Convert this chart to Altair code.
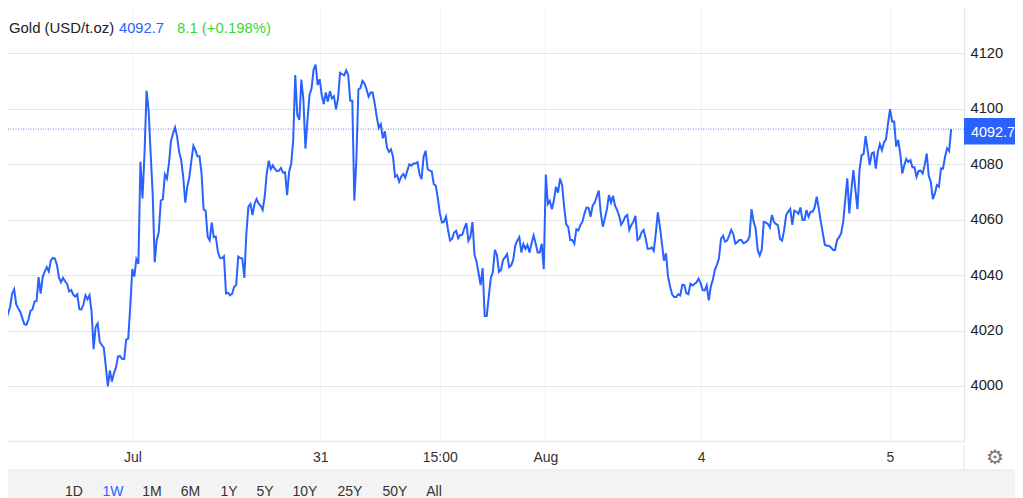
import json
import altair as alt
import pandas as pd

FONT = "Liberation Sans"
BLUE = "#2962ff"

prices = [
4028.1,4026.1,4028.5,4033.3,4034.9,4029.5,4028.0,4026.8,4024.5,4022.3,4022.1,4023.9,4027.1,4027.6,4030.5,4030.7,4039.3,4033.3,4039.3,
4041.3,4042.9,4041.3,4045.3,4046.2,4046.0,4043.7,4039.2,4037.4,4039.0,4037.8,4036.8,4034.1,4034.6,4033.0,4032.3,4033.1,4027.7,4027.6,4029.3,
4032.7,4031.3,4032.8,4026.9,4013.3,4021.3,4022.6,4016.0,4014.8,4013.8,4007.1,3999.9,4005.6,4001.6,4004.7,4006.7,4010.7,4010.8,4009.8,4009.7,
4016.7,4017.1,4028.7,4042.2,4039.5,4045.8,4044.1,4080.9,4067.7,4083.9,4106.5,4099.6,4083.9,4069.5,4044.7,4052.7,4055.5,4066.9,4067.4,4076.3,
4074.8,4080.3,4088.4,4091.2,4093.3,4090.0,4084.5,4081.5,4075.5,4066.2,4071.9,4075.3,4081.3,4086.7,4085.1,4082.9,4082.9,4076.7,4063.8,4063.2,
4053.9,4052.6,4059.0,4053.7,4053.9,4048.5,4046.2,4046.1,4046.8,4033.4,4033.7,4032.7,4033.3,4035.7,4036.5,4046.7,4046.2,4046.0,4039.0,4055.1,
4064.7,4065.7,4061.7,4065.7,4067.5,4065.9,4065.0,4063.5,4068.3,4076.7,4081.3,4078.3,4079.6,4078.3,4077.5,4077.7,4078.7,4077.0,4077.1,4068.9,4077.3,
4080.1,4088.8,4112.2,4097.8,4096.0,4110.6,4103.2,4085.6,4096.0,4105.0,4107.4,4114.2,4116.0,4108.6,4110.7,4105.0,4101.7,4105.9,4102.6,4106.4,
4103.8,4104.6,4099.8,4103.8,4113.0,
4112.5,4112.1,4113.9,4112.2,4102.9,4102.9,4066.9,4081.5,4107.0,4107.5,4110.1,4109.2,4107.1,4104.4,4105.9,4105.9,4102.0,4097.2,4093.1,4094.5,
4089.4,4091.9,4086.1,4084.5,4085.4,4082.7,4075.5,4076.1,4073.7,4075.5,4076.5,4075.2,4077.7,4080.0,4079.5,4080.3,4080.3,4080.8,4076.5,4074.6,
4082.7,4084.9,4078.2,4077.7,4077.5,4072.8,4072.3,4067.7,4062.3,4059.0,4059.2,4061.1,4056.3,4052.5,4053.1,4055.4,4056.0,4053.3,4054.5,4054.6,
4056.9,4058.8,4052.4,4053.9,4059.2,4047.3,4044.9,4040.7,4036.4,4042.5,4025.3,4025.3,4032.3,4038.9,4041.1,4049.1,4047.3,4041.2,4041.9,4045.5,
4046.5,4047.6,4042.9,4043.5,4045.5,4050.7,4052.4,4053.7,4048.2,4051.2,4049.5,4050.9,4048.2,4051.5,4054.3,4051.5,4048.2,4048.2,4051.3,4042.2,
4076.3,4065.7,4066.8,4063.8,4067.1,4071.9,4069.8,4074.9,4072.5,4064.7,4058.4,4057.3,4052.7,4052.7,4051.3,4056.6,4056.1,4058.1,4059.3,4062.3,
4064.4,4064.3,4061.1,4065.1,4066.2,4068.3,4070.5,4062.3,4057.5,4060.5,4063.8,4068.9,4066.2,4068.6,4065.1,4063.5,4061.4,4058.2,4059.4,4061.1,
4061.7,4056.3,4058.1,4059.3,4061.4,4052.7,4053.3,4055.4,4056.3,4053.3,4049.5,4049.5,4050.0,4048.8,4055.1,4062.7,4057.5,4051.5,4045.2,4047.9,
4039.5,4035.9,
4033.1,4032.1,4032.1,4033.1,4032.7,4036.5,4036.4,4033.5,4033.1,4036.9,4036.3,4036.8,4037.4,4038.7,4037.1,4034.6,4034.5,4036.3,4030.9,4035.9,
4038.3,4041.9,4043.7,4046.1,4053.1,4054.2,4052.1,4052.5,4054.3,4056.3,4054.9,4051.4,4051.9,4052.7,4052.7,4051.5,4051.8,4052.4,4053.9,4063.8,
4059.3,4056.9,4049.1,4047.1,4049.1,4059.2,4059.0,4058.5,4057.2,4061.7,4059.2,4058.5,4057.9,4053.0,4052.5,4056.3,4061.7,4062.9,4063.9,4058.1,
4063.3,4062.9,4062.1,4064.4,4059.9,4059.9,4063.5,4061.1,4062.9,4062.9,4064.5,4068.3,4064.1,4059.3,4055.1,4050.9,4050.6,4050.6,4050.0,4049.1,
4049.1,4052.7,4053.7,4055.1,4059.3,4067.1,4074.9,4062.3,4070.7,4077.9,4070.7,4063.8,4077.9,4083.3,4083.7,4090.2,4085.1,4079.7,4083.9,4084.3,
4078.4,4084.5,4087.3,4085.1,4087.9,4089.0,4094.8,4099.9,4095.4,4095.4,4086.4,4088.8,4083.9,4076.7,4079.7,4081.9,4080.8,4081.5,4078.9,4078.9,
4075.5,4077.6,4077.7,4076.7,4079.7,4083.9,4075.8,4073.7,4067.4,4069.5,4072.5,4071.9,4078.5,4078.4,4082.7,4085.8,4084.8,4092.7,
]

tick_steps = [62.05, 154.3, 212.9, 264.8, 341.3, 433.9]
tick_labels = ["Jul", "31", "15:00", "Aug", "4", "5"]
y_ticks = [4000, 4020, 4040, 4060, 4080, 4100, 4120]
last_price = 4092.7
ranges = ["1D", "1W", "1M", "6M", "1Y", "5Y", "10Y", "25Y", "50Y", "All"]
range_x = [66, 105, 144, 182.5, 221, 257, 297, 342, 387, 426]

df = pd.DataFrame({"step": list(range(len(prices))), "price": prices})
x_scale = alt.Scale(domain=[0.98, 470.3], nice=False, zero=False)
y_scale = alt.Scale(domain=[3980.15, 4136.4], nice=False, zero=False)

label_expr = "{}[indexof({}, datum.value)]".format(json.dumps(tick_labels), json.dumps(tick_steps))

y_axis = alt.Axis(
    values=y_ticks, orient="right", grid=True, gridColor="#e6e6e6", gridWidth=1.2,
    domainColor="#e6e6e6", domainWidth=1.2, ticks=False, labelFont=FONT, labelFontSize=14.7,
    labelColor="#222222", labelPadding=6, format="d")

line = alt.Chart(df).mark_line(color=BLUE, strokeWidth=2, clip=False).encode(
    x=alt.X("step:Q", scale=x_scale, title=None, axis=alt.Axis(
        values=tick_steps, labelExpr=label_expr, grid=True, gridColor="#eff3f7", gridWidth=1,
        domainColor="#e6e6e6", domainWidth=1.5, ticks=False, labelFont=FONT, labelFontSize=14,
        labelColor="#333333", labelPadding=9, labelAngle=0, labelOverlap=False, labelFlush=False)),
    y=alt.Y("price:Q", scale=y_scale, title=None, axis=y_axis),
)

last_rule = alt.Chart(alt.Data(values=[{"p": last_price}])).mark_rule(
    color=BLUE, strokeWidth=1, strokeDash=[1, 1.5], opacity=0.75
).encode(y=alt.Y("p:Q", scale=y_scale, title=None, axis=y_axis))


def label(text, x, y, color="#333333", size=14.5, align="left"):
    return alt.Chart(alt.Data(values=[{"t": text}])).mark_text(
        x=x, y=y, color=color, fontSize=size, font=FONT, align=align, baseline="middle"
    ).encode(text="t:N")


strip = alt.Chart(alt.Data(values=[{"a": 1}])).mark_rect(color="#f3f3f3").encode(
    x=alt.value(-8), x2=alt.value(1007), y=alt.value(462), y2=alt.value(490))
strip_top = alt.Chart(alt.Data(values=[{"a": 1}])).mark_rule(color="#e6e6e6", strokeWidth=1).encode(
    x=alt.value(-8), x2=alt.value(1007), y=alt.value(462))
axis_tail = alt.Chart(alt.Data(values=[{"a": 1}])).mark_rule(color="#e6e6e6", strokeWidth=1).encode(
    x=alt.value(956), y=alt.value(437), y2=alt.value(462))
price_box = alt.Chart(alt.Data(values=[{"a": 1}])).mark_rect(color=BLUE).encode(
    x=alt.value(956), x2=alt.value(1007), y=alt.value(110), y2=alt.value(136.5))

layers = [strip, strip_top, axis_tail, line, last_rule, price_box,
          label("4092.7", 963, 125, "#ffffff", 14.4),
          label("Gold (USD/t.oz)", 1, 21, "#222222", 14.9),
          label("4092.7", 111, 21, BLUE, 14.7),
          label("8.1 (+0.198%)", 169, 21, "#3bd63b", 14.9),
          label("\u2699", 987, 450, "#777777", 20, "center")]
for name, rx in zip(ranges, range_x):
    layers.append(label(name, rx, 483.5, BLUE if name == "1W" else "#333333", 14, "center"))

chart = alt.layer(*layers).properties(
    width=956, height=433,
    padding={"left": 0, "top": 0, "right": 51, "bottom": 57},
    autosize=alt.AutoSizeParams(type="none"),
).configure_view(stroke=None)

chart.save("out.html", embed_options={"renderer": "svg", "actions": False})
